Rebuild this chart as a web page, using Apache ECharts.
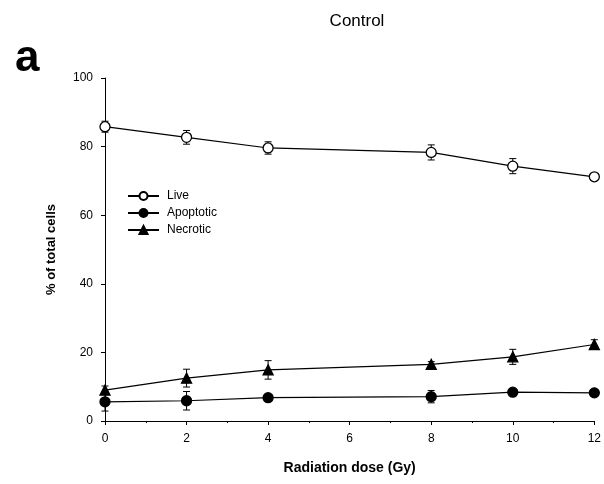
<!DOCTYPE html>
<html><head><meta charset="utf-8">
<script src="https://cdn.jsdelivr.net/npm/echarts@6/dist/echarts.min.js"></script>
<style>html,body{margin:0;padding:0;background:#fff}#c{width:604px;height:484px}</style>
</head><body><div id="c"></div>
<script>
const doses = [0, 2, 4, 8, 10, 12];
const xTicks = [0, 2, 4, 6, 8, 10, 12];
const yTicks = [0, 20, 40, 60, 80, 100];
const liveMean = [85.8, 82.7, 79.6, 78.3, 74.3, 71.2];
const liveErr  = [1.6, 2.0, 1.8, 2.2, 2.2, 1.0];
const apoMean  = [5.6, 5.9, 6.8, 7.1, 8.4, 8.2];
const apoErr   = [2.7, 2.7, 0.8, 1.8, 0.6, 0.5];
const necMean  = [9.0, 12.5, 14.9, 16.5, 18.7, 22.3];
const necErr   = [1.2, 2.6, 2.7, 0.8, 2.2, 1.4];

const FONT = '"Liberation Sans", Arial, sans-serif';
const chart = echarts.init(document.getElementById('c'), null, {renderer: 'canvas'});

function pairs(mean) { return doses.map((d, i) => [d, mean[i]]); }
function errData(mean, err) { return doses.map((d, i) => [d, mean[i] - err[i], mean[i] + err[i]]); }
function errSeries(mean, err) {
  return {
    type: 'custom', silent: true, z: 1, legendHoverLink: false,
    data: errData(mean, err),
    renderItem: function (params, api) {
      const x = api.value(0);
      const lo = api.coord([x, api.value(1)]);
      const hi = api.coord([x, api.value(2)]);
      const w = 3.5;
      const st = {stroke: '#000', lineWidth: 1};
      return {type: 'group', children: [
        {type: 'line', shape: {x1: lo[0], y1: lo[1], x2: hi[0], y2: hi[1]}, style: st},
        {type: 'line', shape: {x1: lo[0] - w, y1: lo[1], x2: lo[0] + w, y2: lo[1]}, style: st},
        {type: 'line', shape: {x1: hi[0] - w, y1: hi[1], x2: hi[0] + w, y2: hi[1]}, style: st}
      ]};
    }
  };
}
function lineSeries(name, mean, symbol, size, fill) {
  return {
    name: name, type: 'line', data: pairs(mean), z: 3,
    symbol: symbol, symbolSize: size, showAllSymbol: true,
    lineStyle: {color: '#000', width: 1.2},
    itemStyle: {color: fill, borderColor: '#000', borderWidth: 1.3},
    emphasis: {disabled: true}
  };
}

chart.setOption({
  animation: false,
  backgroundColor: '#fff',
  title: [
    {text: 'Control', left: 352, top: 8, textAlign: 'center',
     textStyle: {fontFamily: FONT, fontSize: 17, fontWeight: 'normal', color: '#000'}},
    {text: 'a', left: 10, top: 32,
     textStyle: {fontFamily: FONT, fontSize: 44, fontWeight: 'bold', color: '#000'}}
  ],
  legend: {
    orient: 'vertical', left: 127, top: 190, padding: 0,
    itemWidth: 31, itemHeight: 10, itemGap: 5,
    data: ['Live', 'Apoptotic', 'Necrotic'],
    textStyle: {fontFamily: FONT, fontSize: 12, color: '#000', padding: [0, 0, 0, 3]},
    selectedMode: false
  },
  grid: {left: 105, right: 7, top: 78, bottom: 63, containLabel: false},
  xAxis: {
    type: 'value', min: 0, max: 12, interval: 2,
    name: 'Radiation dose (Gy)', nameLocation: 'middle', nameGap: 40,
    nameTextStyle: {fontFamily: FONT, fontSize: 14, fontWeight: 'bold', color: '#000'},
    axisLine: {lineStyle: {color: '#000', width: 1}},
    axisTick: {show: true, length: 4, lineStyle: {color: '#000'}},
    minorTick: {show: true, splitNumber: 2, length: 2, lineStyle: {color: '#000'}},
    axisLabel: {fontFamily: FONT, fontSize: 12, color: '#000', margin: 12,
      customValues: xTicks},
    splitLine: {show: false}
  },
  yAxis: {
    type: 'value', min: 0, max: 100, interval: 20,
    name: '% of total cells', nameLocation: 'middle', nameGap: 47, nameRotate: 90,
    nameTextStyle: {fontFamily: FONT, fontSize: 13, fontWeight: 'bold', color: '#000'},
    axisLine: {show: true, lineStyle: {color: '#000', width: 1}},
    axisTick: {show: true, length: 4, lineStyle: {color: '#000'}},
    axisLabel: {fontFamily: FONT, fontSize: 12, color: '#000', margin: 12,
      customValues: yTicks},
    splitLine: {show: false}
  },
  series: [
    errSeries(liveMean, liveErr),
    errSeries(apoMean, apoErr),
    errSeries(necMean, necErr),
    lineSeries('Live', liveMean, 'circle', 10, '#fff'),
    lineSeries('Apoptotic', apoMean, 'circle', 10, '#000'),
    lineSeries('Necrotic', necMean, 'triangle', 10, '#000')
  ]
});
</script></body></html>
